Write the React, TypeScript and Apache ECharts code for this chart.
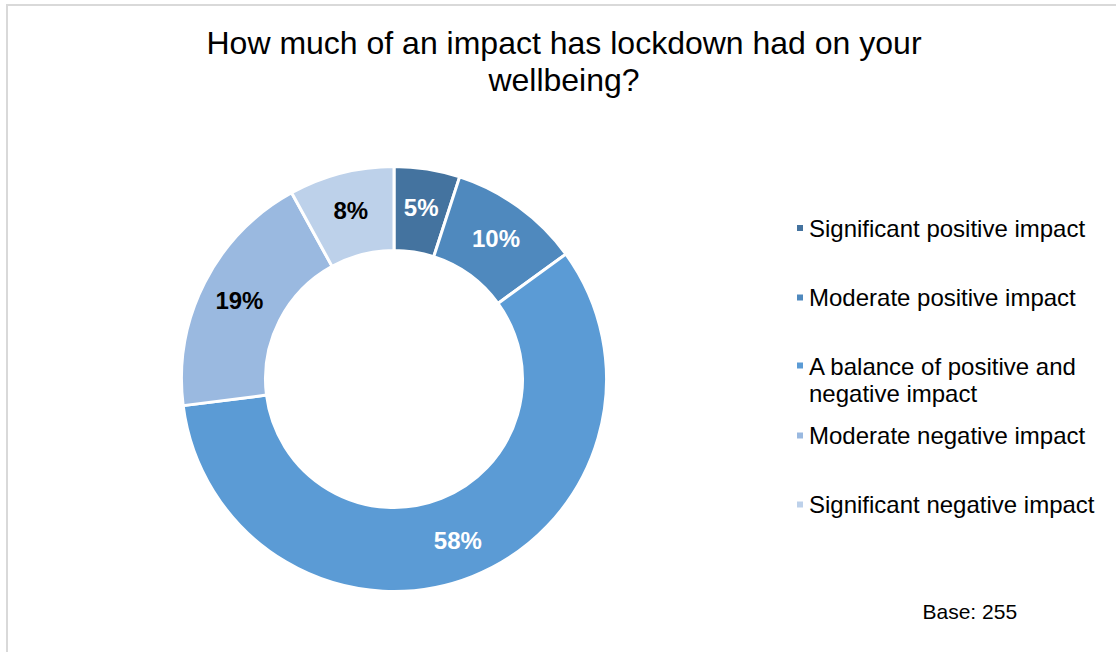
import React, { useEffect, useRef } from "react";
import * as echarts from "echarts";

const titleText = "How much of an impact has lockdown had on your\nwellbeing?";
const categories = [
  "Significant positive impact",
  "Moderate positive impact",
  "A balance of positive and\nnegative impact",
  "Moderate negative impact",
  "Significant negative impact",
];
const values = [5, 10, 58, 19, 8];
const colors = ["#44739F", "#4F89BE", "#5B9BD5", "#9AB9E0", "#BDD1EA"];
const labelColors = ["#ffffff", "#ffffff", "#ffffff", "#000000", "#000000"];
const legendTops = [214.5, 284, 352.5, 422, 491];
const baseNote = "Base: 255";

const FONT = "'Liberation Sans', Arial, sans-serif";

export default function App() {
  const ref = useRef<HTMLDivElement>(null);
  useEffect(() => {
    if (!ref.current) return;
    const chart = echarts.init(ref.current, null, { renderer: "svg" });
    const legends = categories.map((name, i) => {
      const multi = name.includes("\n");
      return {
        data: [name],
        left: 795,
        top: legendTops[i],
        orient: "vertical",
        padding: 0,
        selectedMode: false,
        itemWidth: 8,
        itemHeight: multi ? 36 : 8,
        icon: multi ? "path://M0 0h8v8h-8z M0 35.99 L0 36 L0.001 36 Z" : "rect",
        textStyle: { fontFamily: FONT, fontSize: 24, color: "#000", lineHeight: 27 },
      };
    });
    chart.setOption({
      animation: false,
      color: colors,
      title: [
        {
          text: titleText,
          left: 564,
          top: 24,
          padding: 0,
          textStyle: { fontFamily: FONT, fontSize: 32, fontWeight: "normal", color: "#000", lineHeight: 37.5 },
          textAlign: "center",
        },
        {
          text: baseNote,
          left: 922.5,
          top: 599,
          padding: 0,
          textStyle: { fontFamily: FONT, fontSize: 21, fontWeight: "normal", color: "#000", lineHeight: 24 },
        },
      ],
      legend: legends,
      graphic: [
        {
          type: "rect",
          shape: { x: 7, y: 5, width: 1130, height: 680 },
          style: { fill: "none", stroke: "#d9d9d9", lineWidth: 2 },
          silent: true,
        },
      ],
      series: [
        {
          type: "pie",
          center: [394, 379],
          radius: [128.5, 212.5],
          startAngle: 90,
          clockwise: true,
          avoidLabelOverlap: false,
          itemStyle: { borderColor: "#ffffff", borderWidth: 3 },
          label: {
            show: true,
            position: "inside",
            formatter: "{c}%",
            fontFamily: FONT,
            fontSize: 24,
            fontWeight: "bold",
          },
          labelLine: { show: false },
          emphasis: { disabled: true },
          data: categories.map((name, i) => ({
            name,
            value: values[i],
            itemStyle: { color: colors[i] },
            label: { color: labelColors[i] },
          })),
        },
      ],
    });
    return () => chart.dispose();
  }, []);
  return (
    <div
      ref={ref}
      style={{ position: "fixed", left: 0, top: 0, width: 1116, height: 652, background: "#fff" }}
    />
  );
}
